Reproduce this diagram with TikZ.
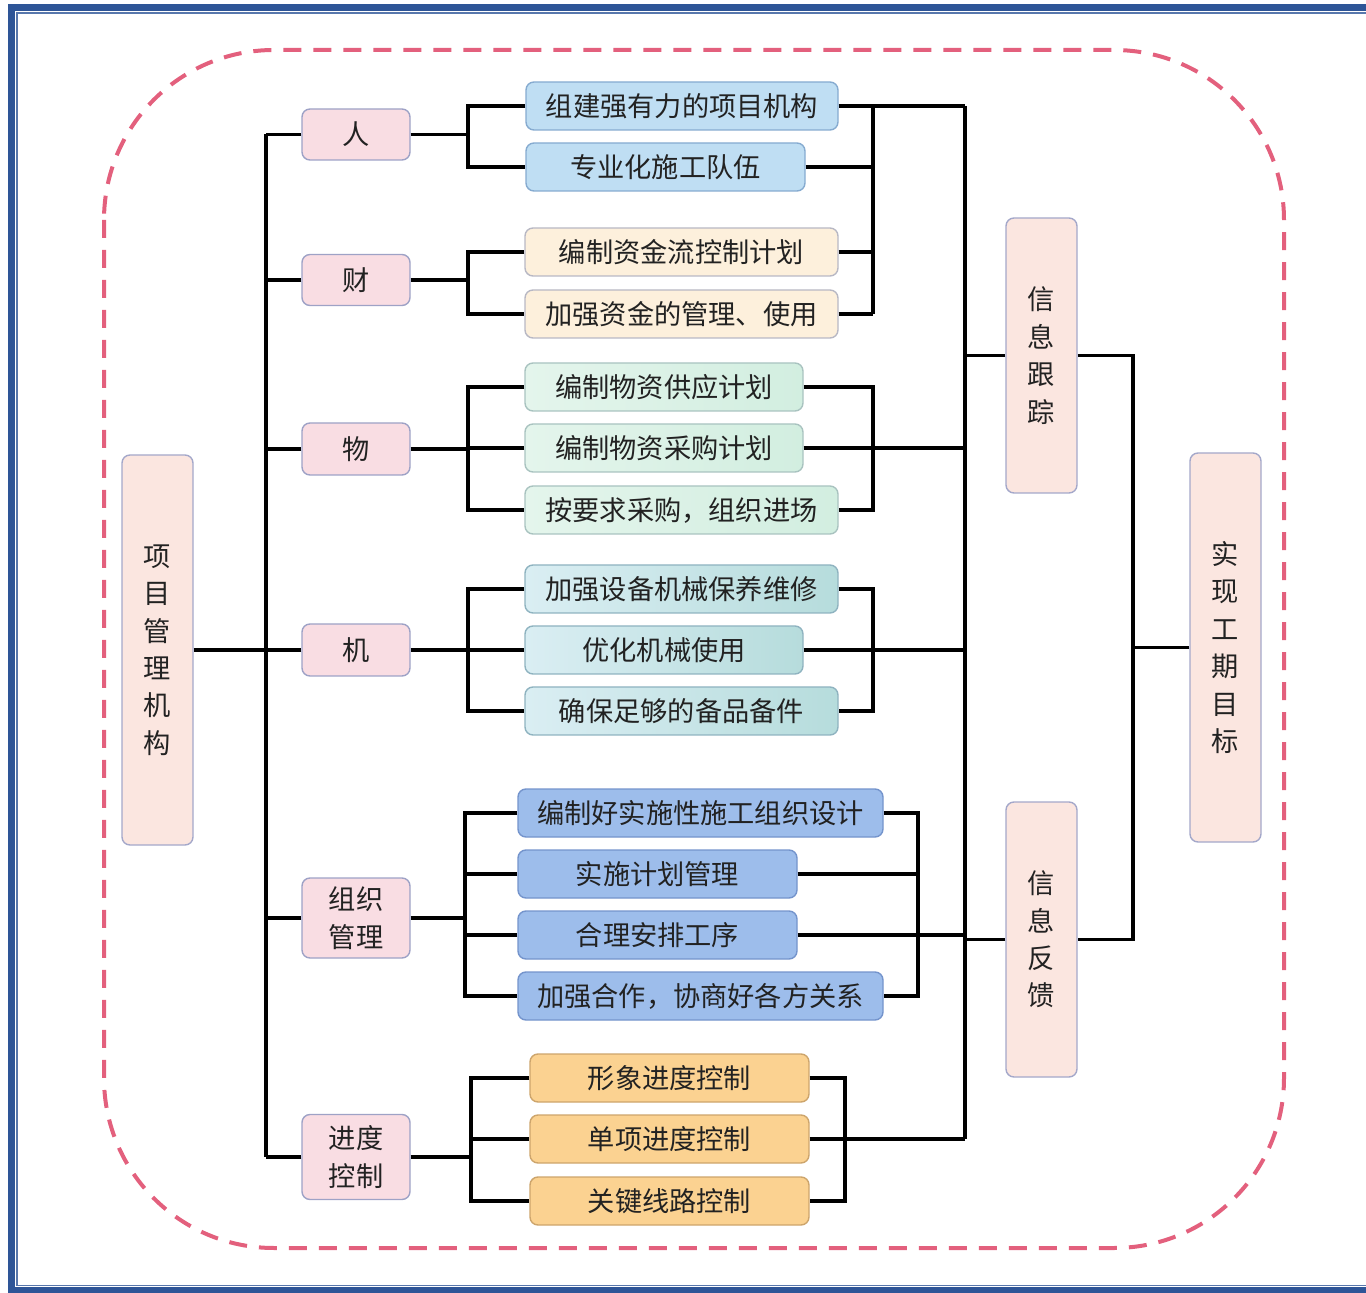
\documentclass[tikz,border=0pt]{standalone}
\usepackage{fontspec}
\setmainfont{Noto Sans CJK SC}
\usetikzlibrary{calc}
\definecolor{frameblue}{HTML}{2E5597}
\definecolor{dashpink}{HTML}{E3607D}
\definecolor{bigfill}{HTML}{FBE6E0}
\definecolor{bigdraw}{HTML}{A4A8CA}
\definecolor{lonefill}{HTML}{F9DDE3}
\definecolor{lonedraw}{HTML}{9EA2C6}
\definecolor{skyfill}{HTML}{BFDEF3}
\definecolor{skydraw}{HTML}{86ABD0}
\definecolor{creamfill}{HTML}{FDF0DC}
\definecolor{creamdraw}{HTML}{B8B8C4}
\definecolor{mintL}{HTML}{E4F5EC}
\definecolor{mintR}{HTML}{D2EEE0}
\definecolor{mintdraw}{HTML}{A9C3C0}
\definecolor{tealL}{HTML}{DAEEF3}
\definecolor{tealR}{HTML}{B6DCDC}
\definecolor{tealdraw}{HTML}{8FB3C0}
\definecolor{midfill}{HTML}{9DBDEB}
\definecolor{middraw}{HTML}{7494CC}
\definecolor{orfill}{HTML}{FBD291}
\definecolor{ordraw}{HTML}{CDA56C}
\definecolor{inktext}{HTML}{222222}
\def\pxu{0.02cm}
\tikzset{
  box/.style={rectangle, rounded corners=0.16cm, line width=0.8pt, inner sep=0pt,
    align=center, text=inktext, font=\fontsize{15.5}{21.3}\selectfont},
  bigbox/.style={box, fill=bigfill, draw=bigdraw, minimum width=71*\pxu},
  lonebox/.style={box, fill=lonefill, draw=lonedraw, minimum width=108*\pxu},
  child/.style={box, minimum height=48*\pxu},
  skybox/.style={child, fill=skyfill, draw=skydraw},
  creambox/.style={child, fill=creamfill, draw=creamdraw},
  mintbox/.style={child, left color=mintL, right color=mintR, draw=mintdraw},
  tealbox/.style={child, left color=tealL, right color=tealR, draw=tealdraw},
  midbox/.style={child, fill=midfill, draw=middraw},
  orbox/.style={child, fill=orfill, draw=ordraw},
  conn/.style={line width=2pt, black},
}
\begin{document}
\begin{tikzpicture}[x=0.02cm, y=-0.02cm]
\useasboundingbox (0,0) rectangle (1366,1293);
% page frame
\begin{scope}
\clip (0,0) rectangle (1366,1293);
\draw[frameblue, line width=7*\pxu] (11.5,7.5) rectangle (1400,1290);
\draw[frameblue!80, line width=1.6*\pxu] (16.8,13.2) rectangle (1400,1285.5);
\end{scope}
% dashed outline
\draw[dashpink, line width=4*\pxu, dash pattern=on 18*\pxu off 12*\pxu, rounded corners=3.4cm]
  (104,50) rectangle (1284,1248);

% column positions for the connectors
\coordinate (xL) at (266,0);
\coordinate (xA) at (468,0);
\coordinate (xE) at (465,0);
\coordinate (xF) at (471,0);
\coordinate (xS) at (873,0);
\coordinate (xSE) at (918,0);
\coordinate (xSF) at (845,0);
\coordinate (xR) at (965,0);
\coordinate (xG) at (1133,0);

% main blocks
\node[bigbox, minimum height=390*\pxu] (mgmt) at (157.5,650) {项\\目\\管\\理\\机\\构};
\node[bigbox, minimum height=275*\pxu] (track) at (1041.5,355.5) {信\\息\\跟\\踪};
\node[bigbox, minimum height=275*\pxu] (fback) at (1041.5,939.5) {信\\息\\反\\馈};
\node[bigbox, minimum height=389*\pxu] (goal) at (1225.5,647.5) {实\\现\\工\\期\\目\\标};

% first level
\node[lonebox, minimum height=51*\pxu] (ren) at (356,134.5) {人};
\node[lonebox, minimum height=51*\pxu] (cai) at (356,280) {财};
\node[lonebox, minimum height=52*\pxu] (wu) at (356,449) {物};
\node[lonebox, minimum height=52*\pxu] (ji) at (356,650) {机};
\node[lonebox, minimum height=80*\pxu] (zz) at (356,918) {组织\\管理};
\node[lonebox, minimum height=85*\pxu] (jd) at (356,1157) {进度\\控制};

% second level
\node[skybox, minimum width=312*\pxu] (a1) at (682,106) {组建强有力的项目机构};
\node[skybox, minimum width=279*\pxu] (a2) at (665.5,167) {专业化施工队伍};
\node[creambox, minimum width=313*\pxu] (b1) at (681.5,252) {编制资金流控制计划};
\node[creambox, minimum width=313*\pxu] (b2) at (681.5,314) {加强资金的管理、使用};
\node[mintbox, minimum width=278*\pxu] (c1) at (664,387) {编制物资供应计划};
\node[mintbox, minimum width=278*\pxu] (c2) at (664,448) {编制物资采购计划};
\node[mintbox, minimum width=313*\pxu] (c3) at (681.5,510) {按要求采购，组织进场};
\node[tealbox, minimum width=313*\pxu] (d1) at (681.5,589) {加强设备机械保养维修};
\node[tealbox, minimum width=278*\pxu] (d2) at (664,650) {优化机械使用};
\node[tealbox, minimum width=313*\pxu] (d3) at (681.5,711) {确保足够的备品备件};
\node[midbox, minimum width=365*\pxu] (e1) at (700.5,813) {编制好实施性施工组织设计};
\node[midbox, minimum width=279*\pxu] (e2) at (657.5,874) {实施计划管理};
\node[midbox, minimum width=279*\pxu] (e3) at (657.5,935) {合理安排工序};
\node[midbox, minimum width=365*\pxu] (e4) at (700.5,996) {加强合作，协商好各方关系};
\node[orbox, minimum width=279*\pxu] (f1) at (669.5,1078) {形象进度控制};
\node[orbox, minimum width=279*\pxu] (f2) at (669.5,1139) {单项进度控制};
\node[orbox, minimum width=279*\pxu] (f3) at (669.5,1201) {关键线路控制};

% trunk on the left
\draw[conn] (mgmt.east) -- (mgmt.east -| xL);
\draw[conn] (ren.west -| xL) -- (jd.west -| xL);
\foreach \n in {ren,cai,wu,ji,zz,jd} \draw[conn] (\n.west) -- (\n.west -| xL);

% first level to second level
\draw[conn] (ren.east) -- (ren.east -| xA);
\draw[conn] (a1.west) -- (a1.west -| xA) -- (a2.west -| xA) -- (a2.west);
\draw[conn] (cai.east) -- (cai.east -| xA);
\draw[conn] (b1.west) -- (b1.west -| xA) -- (b2.west -| xA) -- (b2.west);
\draw[conn] (wu.east) -- (wu.east -| xA);
\draw[conn] (c1.west) -- (c1.west -| xA) -- (c3.west -| xA) -- (c3.west);
\draw[conn] (c2.west) -- (c2.west -| xA);
\draw[conn] (ji.east) -- (ji.east -| xA);
\draw[conn] (d1.west) -- (d1.west -| xA) -- (d3.west -| xA) -- (d3.west);
\draw[conn] (d2.west) -- (d2.west -| xA);
\draw[conn] (zz.east) -- (zz.east -| xE);
\draw[conn] (e1.west) -- (e1.west -| xE) -- (e4.west -| xE) -- (e4.west);
\draw[conn] (e2.west) -- (e2.west -| xE);
\draw[conn] (e3.west) -- (e3.west -| xE);
\draw[conn] (jd.east) -- (jd.east -| xF);
\draw[conn] (f1.west) -- (f1.west -| xF) -- (f3.west -| xF) -- (f3.west);
\draw[conn] (f2.west) -- (f2.west -| xF);

% right-hand brackets
\draw[conn] (a1.east -| xS) -- (b2.east -| xS);
\foreach \n in {a2,b1,b2} \draw[conn] (\n.east) -- (\n.east -| xS);
\draw[conn] (c1.east) -- (c1.east -| xS) -- (c3.east -| xS) -- (c3.east);
\draw[conn] (d1.east) -- (d1.east -| xS) -- (d3.east -| xS) -- (d3.east);
\draw[conn] (e1.east) -- (e1.east -| xSE) -- (e4.east -| xSE) -- (e4.east);
\draw[conn] (e2.east) -- (e2.east -| xSE);
\draw[conn] (f1.east) -- (f1.east -| xSF) -- (f3.east -| xSF) -- (f3.east);

% collecting line to the information blocks
\draw[conn] (a1.east -| xR) -- (f2.east -| xR);
\foreach \n in {a1,c2,d2,e3,f2} \draw[conn] (\n.east) -- (\n.east -| xR);
\draw[conn] (track.west) -- (track.west -| xR);
\draw[conn] (fback.west) -- (fback.west -| xR);

% information blocks to the goal
\draw[conn] (track.east) -- (track.east -| xG) -- (fback.east -| xG) -- (fback.east);
\draw[conn] (goal.west) -- (goal.west -| xG);
\end{tikzpicture}
\end{document}
